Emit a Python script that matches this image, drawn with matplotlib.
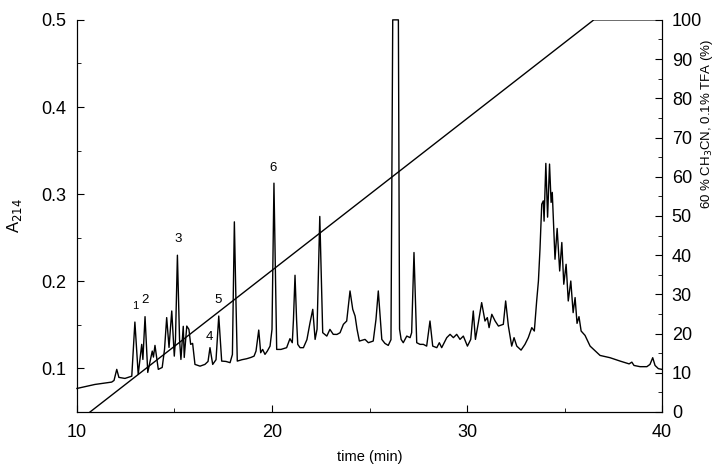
from __future__ import annotations

import matplotlib

matplotlib.use("Agg")
from matplotlib import pyplot
from matplotlib.ticker import MultipleLocator

# chromatogram trace, (time in min, absorbance at 214 nm)
time_min = [
    10.00, 10.92, 11.78, 11.90, 12.04, 12.15, 12.46, 12.81, 12.97, 13.14,
    13.32, 13.38, 13.49, 13.63, 13.77, 13.86, 13.92, 14.00, 14.17, 14.37,
    14.49, 14.60, 14.72, 14.86, 14.99, 15.05, 15.15, 15.26, 15.33, 15.45,
    15.50, 15.63, 15.74, 15.83, 15.93, 16.05, 16.31, 16.56, 16.72, 16.82,
    16.96, 17.13, 17.27, 17.42, 17.64, 17.85, 17.97, 18.07, 18.15, 18.22,
    18.46, 18.70, 18.92, 19.08, 19.18, 19.32, 19.42, 19.52, 19.64, 19.76,
    19.90, 20.00, 20.10, 20.24, 20.46, 20.75, 20.92, 21.04, 21.10, 21.18,
    21.26, 21.32, 21.44, 21.61, 21.79, 21.95, 22.09, 22.21, 22.31, 22.45,
    22.60, 22.81, 22.97, 23.14, 23.33, 23.49, 23.66, 23.83, 24.00, 24.14,
    24.26, 24.36, 24.48, 24.77, 24.94, 25.19, 25.33, 25.45, 25.63, 25.79,
    25.96, 26.10, 26.19, 26.48, 26.54, 26.62, 26.73, 26.91, 27.08, 27.16,
    27.28, 27.42, 27.59, 27.76, 27.93, 28.10, 28.24, 28.45, 28.58, 28.70,
    28.96, 29.13, 29.30, 29.47, 29.64, 29.81, 30.02, 30.19, 30.32, 30.43,
    30.58, 30.75, 30.92, 31.04, 31.13, 31.27, 31.44, 31.61, 31.86, 31.98,
    32.12, 32.29, 32.41, 32.55, 32.77, 32.97, 33.14, 33.32, 33.45, 33.57,
    33.66, 33.74, 33.83, 33.91, 33.95, 34.04, 34.13, 34.23, 34.31, 34.37,
    34.51, 34.62, 34.75, 34.86, 34.96, 35.08, 35.19, 35.32, 35.44, 35.54,
    35.64, 35.74, 35.85, 36.05, 36.31, 36.82, 37.33, 37.85, 38.31, 38.45,
    38.56, 38.87, 39.22, 39.38, 39.52, 39.64, 39.81, 39.99,
]
a214 = [
    0.0770, 0.0816, 0.0843, 0.0862, 0.0989, 0.0897, 0.0885, 0.0911, 0.1532, 0.0931,
    0.1276, 0.1103, 0.1594, 0.0954, 0.1100, 0.1199, 0.1130, 0.1264, 0.0989, 0.1011,
    0.1220, 0.1583, 0.1241, 0.1659, 0.1141, 0.1330, 0.2299, 0.1330, 0.1103, 0.1483,
    0.1126, 0.1486, 0.1448, 0.1276, 0.1287, 0.1046, 0.1026, 0.1046, 0.1080, 0.1238,
    0.1046, 0.1100, 0.1601, 0.1084, 0.1080, 0.1066, 0.1160, 0.2682, 0.1790, 0.1084,
    0.1100, 0.1111, 0.1126, 0.1141, 0.1199, 0.1440, 0.1180, 0.1218, 0.1161, 0.1199,
    0.1256, 0.1448, 0.3126, 0.1218, 0.1218, 0.1238, 0.1341, 0.1295, 0.1560, 0.2069,
    0.1560, 0.1276, 0.1238, 0.1238, 0.1330, 0.1525, 0.1678, 0.1333, 0.1450, 0.2744,
    0.1410, 0.1371, 0.1448, 0.1391, 0.1390, 0.1410, 0.1506, 0.1544, 0.1889, 0.1678,
    0.1601, 0.1450, 0.1314, 0.1333, 0.1295, 0.1314, 0.1560, 0.1889, 0.1333, 0.1287,
    0.1264, 0.1330, 0.5000, 0.5000, 0.1450, 0.1333, 0.1295, 0.1371, 0.1353, 0.1410,
    0.2330, 0.1295, 0.1276, 0.1276, 0.1256, 0.1544, 0.1256, 0.1238, 0.1295, 0.1238,
    0.1353, 0.1391, 0.1353, 0.1391, 0.1333, 0.1371, 0.1256, 0.1333, 0.1659, 0.1333,
    0.1525, 0.1755, 0.1544, 0.1583, 0.1468, 0.1621, 0.1544, 0.1486, 0.1506, 0.1774,
    0.1486, 0.1256, 0.1353, 0.1256, 0.1210, 0.1276, 0.1353, 0.1468, 0.1429, 0.1774,
    0.2003, 0.2368, 0.2885, 0.2923, 0.2690, 0.3353, 0.2736, 0.3345, 0.2905, 0.3020,
    0.2253, 0.2606, 0.2118, 0.2445, 0.1966, 0.2195, 0.1774, 0.2003, 0.1640, 0.1813,
    0.1517, 0.1594, 0.1429, 0.1379, 0.1256, 0.1149, 0.1123, 0.1084, 0.1052, 0.1072,
    0.1034, 0.1020, 0.1020, 0.1046, 0.1123, 0.1034, 0.0997, 0.0989,
]

# acetonitrile gradient (right axis)
gradient_time = [10.67, 36.5, 40.0]
gradient_pct = [0, 100, 100]

# numbered peaks
peak_labels = ["1", "2", "3", "4", "5", "6"]
peak_time = [12.97, 13.49, 15.18, 16.77, 17.23, 20.05]
peak_a214 = [0.172, 0.178, 0.249, 0.136, 0.179, 0.330]


def main() -> None:
    pyplot.rcParams["font.family"] = ["Liberation Sans", "DejaVu Sans"]
    figure = pyplot.figure(figsize=(7.22, 4.73), dpi=100)
    axis = figure.add_axes([0.1066, 0.129, 0.8104, 0.829])

    axis.plot(time_min, a214, color="black", linewidth=1.0, clip_on=False)
    for text, t, a in zip(peak_labels, peak_time, peak_a214):
        size = 8 if text == "1" else 9.5
        axis.text(t, a, text, fontsize=size, ha="center", va="center")

    axis.set_xlim(10, 40)
    axis.set_ylim(0.05, 0.5)
    axis.set_xticks([10, 20, 30, 40])
    axis.xaxis.set_minor_locator(MultipleLocator(5))
    axis.set_yticks([0.1, 0.2, 0.3, 0.4, 0.5])
    axis.yaxis.set_minor_locator(MultipleLocator(0.05))
    axis.tick_params(which="both", direction="in", labelsize=13, top=False, right=False)
    axis.tick_params(which="major", length=5, width=0.8)
    axis.tick_params(which="minor", length=3, width=0.6)
    axis.tick_params(axis="x", pad=9)
    axis.tick_params(axis="y", pad=8)
    axis.spines["top"].set_visible(False)
    axis.set_xlabel("time (min)", fontsize=10.5, labelpad=6)
    axis.set_ylabel("A$_{214}$", fontsize=12, labelpad=12)

    right = axis.twinx()
    right.plot(gradient_time, gradient_pct, color="black", linewidth=1.0)
    right.set_ylim(0, 100)
    right.set_yticks(range(0, 101, 10))
    right.yaxis.set_minor_locator(MultipleLocator(5))
    right.tick_params(which="both", direction="in", labelsize=13, pad=7)
    right.tick_params(which="major", length=5, width=0.8)
    right.tick_params(which="minor", length=3, width=0.6)
    right.spines["top"].set_visible(False)
    right.set_ylabel("60 % CH$_3$CN, 0.1% TFA (%)", fontsize=9.5)
    right.yaxis.set_label_coords(1.063, 0.735)

    figure.savefig("out.png")
    pyplot.close(figure)


if __name__ == "__main__":
    main()
